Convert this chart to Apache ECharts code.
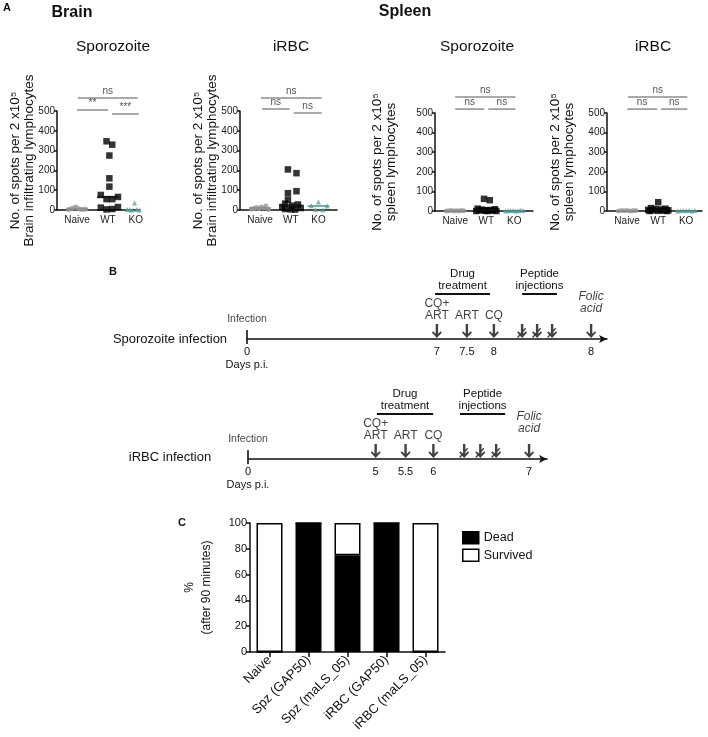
<!DOCTYPE html>
<html>
<head>
<meta charset="utf-8">
<script src="https://cdn.jsdelivr.net/npm/echarts@6/dist/echarts.min.js"></script>
<style>
  html, body { margin: 0; padding: 0; background: #fff; }
  #main { width: 708px; height: 737px; }
</style>
</head>
<body>
<div id="main"></div>
<script>
const FONT = '"Liberation Sans", Arial, sans-serif';

// ---------- Panel A : ELISpot dot plots ----------
const groupNames = ['Naive', 'WT', 'KO'];
const groupPos = [0.7, 1.78, 2.75];

// horizontal scatter inside a group
const dx8 = [-0.3, -0.21, -0.13, -0.04, 0.04, 0.13, 0.21, 0.3];
const dx7 = [-0.3, -0.2, -0.1, 0, 0.1, 0.2, 0.3];

// Brain / Sporozoite
const brainSpzNaive = [3, 6, 10, 15, 8, 4, 2, 5];
const brainSpzWT = [347, 330, 275, 160, 118, 76, 66, 55, 55, 12, 3, 5, 15];
const brainSpzWTdx = [-0.05, 0.15, 0.05, 0.05, 0.05, -0.25, 0.35, -0.05, 0.15, -0.25, -0.05, 0.15, 0.35];
const brainSpzKO = [3, 1, 0, 35, 2, 0, 1, 3];

// Brain / iRBC
const brainRbcNaive = [5, 8, 12, 6, 15, 10, 20, 3];
const brainRbcWT = [205, 186, 95, 85, 52, 32, 28, 22, 15, 10, 5, 3, 2];
const brainRbcWTdx = [-0.1, 0.2, 0.2, -0.1, -0.1, -0.2, 0.25, 0.05, -0.3, 0.35, -0.2, 0, 0.15];
const brainRbcKO = [40, 22, 20, 2, 0];
const brainRbcKOdx = [0, -0.25, 0.3, -0.1, 0.15];

// Spleen / Sporozoite
const spleenSpzNaive = [0, 1, 2, 0, 1, 0, 2, 1];
const spleenSpzWT = [62, 55, 12, 9, 7, 5, 4, 3, 2, 1, 0, 0, 0];
const spleenSpzWTdx = [-0.08, 0.12, -0.3, 0.3, -0.15, 0.15, 0, -0.25, 0.25, -0.05, 0.05, -0.35, 0.35];
const spleenSpzKO = [0, 1, 2, 3, 0, 1, 4, 2];

// Spleen / iRBC
const spleenRbcNaive = [0, 2, 1, 3, 0, 1, 2];
const spleenRbcWT = [45, 15, 12, 10, 8, 6, 4, 3, 2, 1, 0, 0];
const spleenRbcWTdx = [0, -0.25, 0.25, -0.1, 0.1, -0.35, 0.35, -0.2, 0.2, 0, -0.3, 0.3];
const spleenRbcKO = [0, 1, 2, 1, 3, 0, 2];

// significance bars: [from, to, level, text]
const sigBrainSpz = [[0.73, 2.82, 566, 'ns'], [0.7, 1.78, 505, '**'], [1.92, 2.86, 485, '***']];
const sigBrainRbc = [[0.73, 2.86, 566, 'ns'], [0.77, 1.74, 510, 'ns'], [1.88, 2.86, 490, 'ns']];
const sigSpleenSpz = [[0.7, 2.79, 582, 'ns'], [0.7, 1.71, 520, 'ns'], [1.85, 2.79, 520, 'ns']];
const sigSpleenRbc = [[0.73, 2.79, 582, 'ns'], [0.7, 1.74, 520, 'ns'], [1.88, 2.79, 520, 'ns']];

const plotsA = [
  { title: 'Sporozoite', organ: 'Brain infiltrating lymphocytes', naive: brainSpzNaive, naiveDx: dx8,
    wt: brainSpzWT, wtDx: brainSpzWTdx, ko: brainSpzKO, koDx: dx8, sig: sigBrainSpz },
  { title: 'iRBC', organ: 'Brain infiltrating lymphocytes', naive: brainRbcNaive, naiveDx: dx8,
    wt: brainRbcWT, wtDx: brainRbcWTdx, ko: brainRbcKO, koDx: brainRbcKOdx, sig: sigBrainRbc },
  { title: 'Sporozoite', organ: 'spleen lymphocytes', naive: spleenSpzNaive, naiveDx: dx8,
    wt: spleenSpzWT, wtDx: spleenSpzWTdx, ko: spleenSpzKO, koDx: dx8, sig: sigSpleenSpz },
  { title: 'iRBC', organ: 'spleen lymphocytes', naive: spleenRbcNaive, naiveDx: dx7,
    wt: spleenRbcWT, wtDx: spleenRbcWTdx, ko: spleenRbcKO, koDx: dx7, sig: sigSpleenRbc }
];

// ---------- Panel B : treatment schedule ----------
const spzEventPos = [6.33, 7.33, 8.23, 9.17, 9.67, 10.17, 11.47];
const spzEventDay = ['7', '7.5', '8', '', '', '', '8'];
const rbcEventPos = [4.27, 5.27, 6.2, 7.23, 7.77, 8.3, 9.4];
const rbcEventDay = ['5', '5.5', '6', '', '', '', '7'];
const eventTop = ['CQ+\nART', 'ART', 'CQ', '', '', '', 'Folic\nacid'];
const eventKind = ['drug', 'drug', 'drug', 'peptide', 'peptide', 'peptide', 'folic'];
const spzBrackets = [[6.27, 8.1, 1.154, 'Drug\ntreatment'], [9.17, 10.33, 1.154, 'Peptide\ninjections']];
const rbcBrackets = [[4.31, 6.19, 1.154, 'Drug\ntreatment'], [7.09, 8.6, 1.154, 'Peptide\ninjections']];

// ---------- Panel C : survival ----------
const survCats = ['Naive', 'Spz (GAP50)', 'Spz (maLS_05)', 'iRBC (GAP50)', 'iRBC (maLS_05)'];
const deadPct = [0, 100, 75, 100, 0];
const survivedPct = [100, 0, 25, 0, 100];

// ---------- layout ----------
const gridsA = [
  { left: 57, top: 111, width: 83, height: 99 },
  { left: 240, top: 111, width: 97, height: 99 },
  { left: 435, top: 113, width: 98, height: 98 },
  { left: 607, top: 113, width: 95, height: 98 }
];
const xMaxA = [2.9, 3.4, 3.4, 3.3];
const nameGapA = [21, 21, 37, 31];

const ARROW = 'path://M3.8 0 H6.2 V10.5 L8.8 7.8 L10 9 L5 15 L0 9 L1.2 7.8 L3.8 10.5 Z';
const ARROW_X = 'path://M3.8 0 H6.2 V10.5 L8.8 7.8 L10 9 L5 15 L0 9 L1.2 7.8 L3.8 10.5 Z M8 4 L9 5 L1 15 L0 14 Z';

const median = arr => {
  const s = [...arr].sort((a, b) => a - b);
  const m = Math.floor(s.length / 2);
  return s.length % 2 ? s[m] : (s[m - 1] + s[m]) / 2;
};
const pts = (vals, dxs, c) => vals.map((v, i) => [c + dxs[i], v]);

function medianLine(vals, c, color) {
  const m = median(vals);
  return {
    silent: true, symbol: 'none', animation: false,
    label: { show: false },
    lineStyle: { color: color, width: 1.5, type: 'solid' },
    data: [[{ coord: [c - 0.38, m] }, { coord: [c + 0.38, m] }]]
  };
}

// line with a caption above it, in data coordinates
function bracketSeries(xi, rows, style) {
  return {
    type: 'custom', xAxisIndex: xi, yAxisIndex: xi, silent: true, animation: false,
    data: rows.map(r => [r[0], r[1], r[2]]),
    renderItem: (params, api) => {
      const r = rows[params.dataIndex];
      const a = api.coord([r[0], r[2]]);
      const b = api.coord([r[1], r[2]]);
      return {
        type: 'group',
        children: [
          { type: 'line', shape: { x1: a[0], y1: a[1], x2: b[0], y2: b[1] },
            style: { stroke: style.stroke, lineWidth: style.lineWidth } },
          { type: 'text',
            style: { text: r[3], x: (a[0] + b[0]) / 2, y: a[1] - style.gap,
              align: 'center', verticalAlign: 'bottom', textAlign: 'center', textVerticalAlign: 'bottom',
              font: style.font, fill: style.fill, lineHeight: style.lineHeight } }
        ]
      };
    }
  };
}

const grid = [], xAxis = [], yAxis = [], series = [];

plotsA.forEach((p, i) => {
  grid.push(gridsA[i]);
  xAxis.push({
    gridIndex: i, type: 'value', min: 0, max: xMaxA[i],
    axisLine: { show: true, lineStyle: { color: '#111', width: 1.5 } },
    axisTick: { show: false }, splitLine: { show: false },
    axisLabel: {
      customValues: groupPos, margin: 5, fontSize: 10, color: '#222', fontFamily: FONT,
      formatter: v => {
        let k = 0;
        groupPos.forEach((g, j) => { if (Math.abs(g - v) < Math.abs(groupPos[k] - v)) k = j; });
        return groupNames[k];
      }
    }
  });
  yAxis.push({
    gridIndex: i, type: 'value', min: 0, max: 500, interval: 100,
    axisLine: { show: true, lineStyle: { color: '#111', width: 1.5 } },
    axisTick: { show: true, length: 3, lineStyle: { color: '#111', width: 1.5 } },
    splitLine: { show: false },
    axisLabel: { fontSize: 10, color: '#222', margin: 2, fontFamily: FONT },
    name: 'No. of spots per 2 x10\u2075\n' + p.organ,
    nameLocation: 'middle', nameRotate: 90, nameGap: nameGapA[i], nameMoveOverlap: false,
    nameTextStyle: { fontSize: 13.5, lineHeight: 14, color: '#111', fontFamily: FONT, align: 'center' }
  });
  series.push({
    type: 'scatter', xAxisIndex: i, yAxisIndex: i, symbol: 'circle', symbolSize: 5,
    itemStyle: { color: '#9a9a9a' }, data: pts(p.naive, p.naiveDx, groupPos[0]),
    markLine: medianLine(p.naive, groupPos[0], '#8a8a8a')
  });
  series.push({
    type: 'scatter', xAxisIndex: i, yAxisIndex: i, symbol: 'rect', symbolSize: 6.5,
    itemStyle: { color: '#000' }, data: pts(p.wt, p.wtDx, groupPos[1]),
    markLine: medianLine(p.wt, groupPos[1], '#111')
  });
  series.push({
    type: 'scatter', xAxisIndex: i, yAxisIndex: i, symbol: 'triangle', symbolSize: 5,
    itemStyle: { color: '#5aa6a0' }, data: pts(p.ko, p.koDx, groupPos[2]),
    markLine: medianLine(p.ko, groupPos[2], '#4a8f8a')
  });
  series.push(bracketSeries(i, p.sig, { stroke: '#8c8c8c', lineWidth: 1.5, gap: 1, font: '10px ' + FONT, fill: '#555', lineHeight: 11 }));
});

// timelines
const timelines = [
  { grid: { left: 247, top: 300, width: 360, height: 39 }, max: 12, pos: spzEventPos, day: spzEventDay, br: spzBrackets },
  { grid: { left: 248, top: 420, width: 299, height: 39 }, max: 10, pos: rbcEventPos, day: rbcEventDay, br: rbcBrackets }
];
timelines.forEach((t, k) => {
  const i = 4 + k;
  const labelVals = [0].concat(t.pos.filter((_, j) => t.day[j] !== ''));
  grid.push(t.grid);
  xAxis.push({
    gridIndex: i, type: 'value', min: 0, max: t.max,
    axisLine: { show: true, symbol: ['none', 'arrow'], symbolSize: [6, 8], lineStyle: { color: '#111', width: 1.5 } },
    axisTick: { show: false }, splitLine: { show: false },
    axisLabel: {
      customValues: labelVals, margin: 6, fontSize: 11, lineHeight: 13, color: '#111', fontFamily: FONT,
      formatter: v => {
        if (Math.abs(v) < 1e-6) return '0\nDays p.i.';
        const j = t.pos.findIndex(p => Math.abs(p - v) < 1e-6);
        return j >= 0 ? t.day[j] : '';
      }
    }
  });
  yAxis.push({ gridIndex: i, type: 'value', min: 0, max: 1, show: false });
  series.push({
    type: 'scatter', xAxisIndex: i, yAxisIndex: i, symbol: 'rect', symbolSize: [2, 14], silent: true,
    itemStyle: { color: '#111' },
    label: { show: true, position: 'top', distance: 5, formatter: 'Infection', fontSize: 10.5, color: '#111', fontFamily: FONT },
    data: [[0, 0.05]]
  });
  series.push({
    type: 'scatter', xAxisIndex: i, yAxisIndex: i, silent: true,
    itemStyle: { color: '#111' },
    data: t.pos.map((p, j) => ({
      value: [p, 0.205],
      symbol: eventKind[j] === 'peptide' ? ARROW_X : ARROW,
      symbolSize: [10, 14],
      label: {
        show: eventTop[j] !== '', position: 'top', distance: eventKind[j] === 'folic' ? 9 : 2,
        formatter: eventTop[j], fontSize: 12, lineHeight: 12, color: '#111', fontFamily: FONT,
        fontStyle: eventKind[j] === 'folic' ? 'italic' : 'normal'
      }
    }))
  });
  series.push(bracketSeries(i, t.br, { stroke: '#111', lineWidth: 2, gap: 2, font: '11.5px ' + FONT, fill: '#111', lineHeight: 12 }));
});

// survival bars
grid.push({ left: 250, top: 523, width: 195, height: 129 });
xAxis.push({
  gridIndex: 6, type: 'category', data: survCats,
  axisLine: { show: true, lineStyle: { color: '#111', width: 1.5 } },
  axisTick: { show: true, alignWithLabel: true, length: 5, lineStyle: { color: '#111', width: 1.5 } },
  axisLabel: { rotate: 45, margin: 6, fontSize: 13, color: '#111', fontFamily: FONT, interval: 0 }
});
yAxis.push({
  gridIndex: 6, type: 'value', min: 0, max: 100, interval: 20,
  axisLine: { show: true, lineStyle: { color: '#111', width: 1.5 } },
  axisTick: { show: true, length: 4, lineStyle: { color: '#111', width: 1.5 } },
  splitLine: { show: false },
  axisLabel: { fontSize: 11, color: '#111', margin: 3, fontFamily: FONT },
  name: '%\n(after 90 minutes)', nameLocation: 'middle', nameRotate: 90, nameGap: 35, nameMoveOverlap: false,
  nameTextStyle: { fontSize: 12, lineHeight: 17, color: '#111', fontFamily: FONT, align: 'center' }
});
series.push({
  name: 'Dead', type: 'bar', stack: 'c', xAxisIndex: 6, yAxisIndex: 6, barWidth: 26,
  itemStyle: { color: '#000', borderColor: '#000', borderWidth: 1.5 }, data: deadPct
});
series.push({
  name: 'Survived', type: 'bar', stack: 'c', xAxisIndex: 6, yAxisIndex: 6, barWidth: 26,
  itemStyle: { color: '#fff', borderColor: '#000', borderWidth: 1.5 }, data: survivedPct
});

const txt = (text, x, y, font, align) => ({
  type: 'text', x: x, y: y, silent: true,
  style: { text: text, font: font, fill: '#111', align: align || 'center', verticalAlign: 'middle',
    textAlign: align || 'center', textVerticalAlign: 'middle' }
});

const chart = echarts.init(document.getElementById('main'));
chart.setOption({
  backgroundColor: '#fff',
  animation: false,
  textStyle: { fontFamily: FONT },
  grid: grid, xAxis: xAxis, yAxis: yAxis, series: series,
  legend: {
    orient: 'vertical', left: 457, top: 526, itemWidth: 16, itemHeight: 12, itemGap: 4,
    icon: 'rect', textStyle: { fontSize: 12.5, color: '#111', fontFamily: FONT },
    data: [
      { name: 'Dead', itemStyle: { color: '#000', borderColor: '#000', borderWidth: 1.5 } },
      { name: 'Survived', itemStyle: { color: '#fff', borderColor: '#000', borderWidth: 1.5 } }
    ]
  },
  graphic: [
    txt('A', 3, 8, 'bold 11px ' + FONT, 'left'),
    txt('Brain', 72, 13, 'bold 16px ' + FONT),
    txt('Spleen', 405, 12, 'bold 16px ' + FONT),
    txt('Sporozoite', 113, 47, '15.5px ' + FONT),
    txt('iRBC', 291, 47, '15.5px ' + FONT),
    txt('Sporozoite', 477, 47, '15.5px ' + FONT),
    txt('iRBC', 653, 47, '15.5px ' + FONT),
    txt('B', 113, 272, 'bold 11px ' + FONT),
    txt('Sporozoite infection', 170, 339, '13px ' + FONT),
    txt('iRBC infection', 170, 457, '13px ' + FONT),
    txt('C', 182, 523, 'bold 11px ' + FONT)
  ]
});
</script>
</body>
</html>
